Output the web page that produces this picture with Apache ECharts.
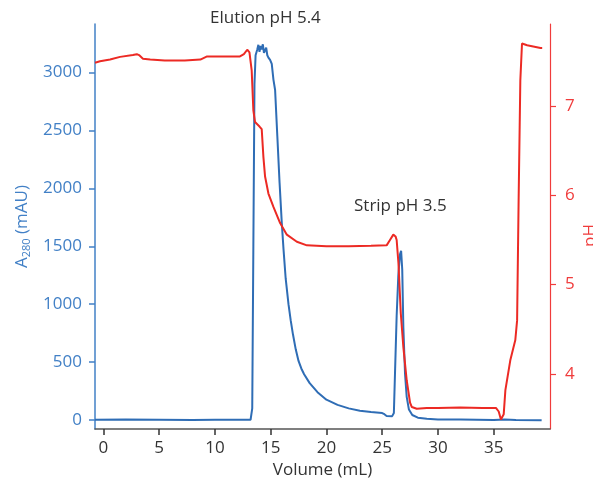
<!DOCTYPE html>
<html>
<head>
<meta charset="utf-8">
<script src="https://cdn.jsdelivr.net/npm/echarts@6/dist/echarts.min.js"></script>
<style>
  html, body { margin: 0; padding: 0; background: #ffffff; }
  #chart { width: 593px; height: 479px; }
</style>
</head>
<body>
<div id="chart"></div>
<script>
// UV absorbance trace (A280, mAU) against elution volume (mL)
const a280Volume = [
  -0.75, 2, 5, 8, 10, 13.2, 13.35, 13.45, 13.55, 13.65, 13.8, 13.9, 14.0, 14.1, 14.2,
  14.3, 14.4, 14.5, 14.6, 14.7, 14.8, 14.95, 15.1, 15.25, 15.4, 15.6, 15.8, 16.0, 16.15,
  16.35, 16.6, 16.8, 17.0, 17.25, 17.5, 17.75, 18.0, 18.5, 19.2, 20.0, 21, 22, 23, 24,
  25.0, 25.2, 25.4, 25.9, 26.05, 26.15, 26.3, 26.45, 26.6, 26.7, 26.8, 26.9, 27.05,
  27.2, 27.4, 27.7, 28.2, 29, 30, 32, 35, 36, 37, 39.3
];
const a280Values = [
  2, 3, 2, 0, 1, 2, 100, 1500, 2900, 3150, 3200, 3240, 3180, 3230, 3200,
  3245, 3170, 3160, 3215, 3150, 3130, 3110, 3075, 2940, 2850, 2450, 2050, 1700, 1480,
  1220, 1000, 860, 740, 610, 510, 445, 395, 318, 240, 175, 130, 100, 80, 68,
  60, 50, 35, 33, 60, 400, 900, 1250, 1430, 1462, 1300, 800, 400,
  200, 90, 43, 20, 10, 5, 3, 0, 5, 0, -3
];

// pH trace against elution volume (mL)
const phVolume = [
  -0.75, -0.3, 0.6, 1.5, 2.65, 3.0, 3.2, 3.55, 4.2, 5.5, 7.3, 8.7, 9.3, 10.5, 12.25,
  12.6, 12.9, 13.1, 13.3, 13.45, 13.6, 14.0, 14.2, 14.35, 14.5, 14.8, 15.25, 15.85,
  16.45, 17.35, 18.25, 20, 22, 24, 25.4, 25.7, 26.0, 26.2, 26.3, 26.46, 26.67, 26.9,
  27.2, 27.5, 27.66, 28.1, 29, 30, 32, 34, 35.2, 35.45, 35.65, 35.9, 36.05, 36.5,
  36.94, 37.1, 37.24, 37.39, 37.54, 37.7, 38.0, 39.2, 39.35
];
const phValues = [
  7.485, 7.50, 7.52, 7.55, 7.57, 7.58, 7.57, 7.53, 7.52, 7.51, 7.51, 7.52, 7.555, 7.555, 7.555,
  7.58, 7.63, 7.60, 7.40, 6.95, 6.82, 6.77, 6.74, 6.43, 6.21, 6.02, 5.87, 5.69,
  5.56, 5.48, 5.44, 5.43, 5.43, 5.435, 5.44, 5.50, 5.56, 5.54, 5.50, 5.24, 4.68, 4.30,
  3.93, 3.68, 3.63, 3.61, 3.62, 3.62, 3.625, 3.62, 3.62, 3.58, 3.49, 3.55, 3.82, 4.16,
  4.38, 4.60, 5.98, 7.29, 7.70, 7.71, 7.68, 7.65, 7.65
];

// Tick positions for the three axes
const volumeTicks = [0, 5, 10, 15, 20, 25, 30, 35];
const a280Ticks = [0, 500, 1000, 1500, 2000, 2500, 3000];
const phTicks = [4, 5, 6, 7];

const BLUE = '#2f6db5';
const BLUE_AXIS = '#4280c6';
const RED = '#ec2a24';
const RED_AXIS = '#f03c3c';
const FONT = 'Open Sans';

const pairs = (xs, ys) => xs.map((x, i) => [x, ys[i]]);
const plain = v => String(v);

const chart = echarts.init(document.getElementById('chart'), null, { renderer: 'canvas' });

chart.setOption({
  animation: false,
  backgroundColor: '#ffffff',
  textStyle: { fontFamily: FONT },
  grid: { left: 95, right: 43, top: 24, bottom: 50, containLabel: false, outerBoundsMode: 'none' },
  xAxis: {
    type: 'value',
    min: -0.75,
    max: 40.05,
    name: 'Volume (mL)',
    nameLocation: 'middle',
    nameGap: 33,
    nameTextStyle: { color: '#333333', fontSize: 17, fontFamily: FONT },
    axisLine: { show: true, onZero: false, lineStyle: { color: '#555555', width: 1.5 } },
    axisTick: { show: true, customValues: volumeTicks, length: 6, lineStyle: { color: '#333333', width: 1.5 } },
    axisLabel: { customValues: volumeTicks, formatter: plain, color: '#333333', fontSize: 17, margin: 11, fontFamily: FONT },
    splitLine: { show: false }
  },
  yAxis: [
    {
      type: 'value',
      position: 'left',
      min: -78,
      max: 3420,
      name: '{a|A}{sub|280}{a| (mAU)}',
      nameLocation: 'middle',
      nameGap: 62,
      nameTextStyle: {
        color: BLUE_AXIS,
        rich: {
          a: { fontSize: 17, lineHeight: 20, color: BLUE_AXIS, fontFamily: FONT },
          sub: { fontSize: 11, lineHeight: 10, verticalAlign: 'bottom', color: BLUE_AXIS, fontFamily: FONT }
        }
      },
      axisLine: { show: true, onZero: false, lineStyle: { color: BLUE_AXIS, width: 1.5 } },
      axisTick: { show: true, customValues: a280Ticks, length: 6, lineStyle: { color: BLUE_AXIS, width: 1.5 } },
      axisLabel: { customValues: a280Ticks, formatter: plain, color: BLUE_AXIS, fontSize: 17, margin: 13, fontFamily: FONT },
      splitLine: { show: false }
    },
    {
      type: 'value',
      position: 'right',
      min: 3.384,
      max: 7.918,
      name: 'pH',
      nameLocation: 'middle',
      nameRotate: 90,
      nameGap: 32,
      nameMoveOverlap: false,
      nameTextStyle: { color: RED_AXIS, fontSize: 17, fontFamily: FONT, padding: [0, 18, 0, 0] },
      axisLine: { show: true, onZero: false, lineStyle: { color: RED_AXIS, width: 1.2 } },
      axisTick: { show: true, customValues: phTicks, length: 6, lineStyle: { color: RED_AXIS, width: 1.2 } },
      axisLabel: { customValues: phTicks, formatter: plain, color: RED_AXIS, fontSize: 17, margin: 15, fontFamily: FONT },
      splitLine: { show: false }
    }
  ],
  graphic: [
    {
      type: 'text',
      left: 210,
      top: 10,
      style: { text: 'Elution pH 5.4', fill: '#333333', fontSize: 17, fontFamily: FONT }
    },
    {
      type: 'text',
      left: 354,
      top: 198,
      style: { text: 'Strip pH 3.5', fill: '#333333', fontSize: 17, fontFamily: FONT }
    }
  ],
  series: [
    {
      name: 'A280',
      type: 'line',
      yAxisIndex: 0,
      data: pairs(a280Volume, a280Values),
      showSymbol: false,
      lineStyle: { color: BLUE, width: 2 },
      itemStyle: { color: BLUE },
      z: 2
    },
    {
      name: 'pH',
      type: 'line',
      yAxisIndex: 1,
      data: pairs(phVolume, phValues),
      showSymbol: false,
      lineStyle: { color: RED, width: 2 },
      itemStyle: { color: RED },
      z: 3
    }
  ]
});
</script>
</body>
</html>
